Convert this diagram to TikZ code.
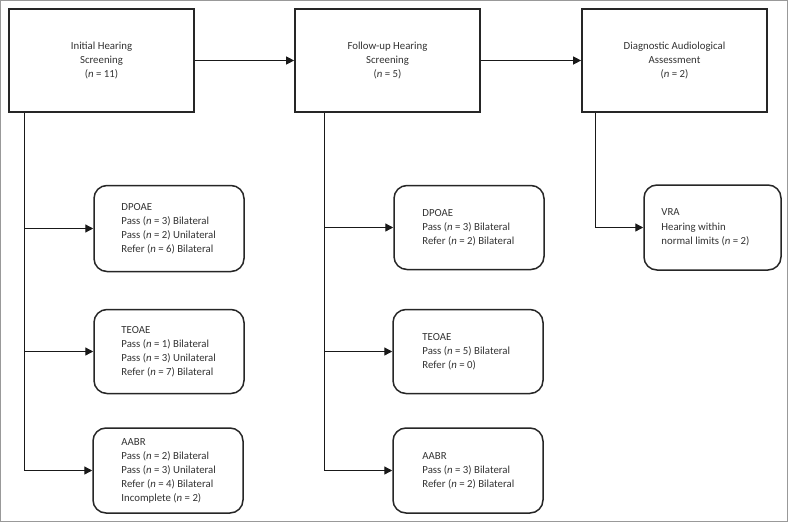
\documentclass[tikz,border=0pt]{standalone}
\usepackage{fontspec}
\setmainfont{Carlito}
\usetikzlibrary{arrows.meta}
\newcommand{\nn}{\textit{n}}
\begin{document}
\begin{tikzpicture}[x=1pt,y=-1pt,
  every node/.style={font=\fontsize{10.8}{14}\selectfont, text=black!80},
  head/.style={draw=black!85, line width=1.7pt, minimum width=185pt, minimum height=103pt, align=center, inner sep=0pt},
  res/.style={draw=black!85, line width=1.5pt, rounded corners=13pt, inner sep=0pt},
  txt/.style={align=left, inner sep=0pt, anchor=west},
  conn/.style={draw=black!90, line width=1.3pt, -{Triangle[length=8pt,width=8pt]}},
  trunk/.style={draw=black!90, line width=1.3pt},
]
\fill[white] (0,0) rectangle (788,522);
\draw[black!40, line width=1pt] (0.5,0.5) rectangle (787.5,521.5);
\useasboundingbox (0,0) rectangle (788,522);

% header boxes
\node[head] (h1) at (101.5,60.5) {Initial Hearing\\Screening\\(\nn{} = 11)};
\node[head] (h2) at (387.5,60.5) {Follow-up Hearing\\Screening\\(\nn{} = 5)};
\node[head] (h3) at (674.5,60.5) {Diagnostic Audiological\\Assessment\\(\nn{} = 2)};

% left column
\node[res, minimum width=150pt, minimum height=86pt] (a1) at (169,228.5) {};
\node[txt] (a1t) at ([xshift=28pt]a1.west) {DPOAE\\Pass (\nn{} = 3) Bilateral\\Pass (\nn{} = 2) Unilateral\\Refer (\nn{} = 6) Bilateral};
\node[res, minimum width=150pt, minimum height=84pt] (a2) at (169,351.5) {};
\node[txt] (a2t) at ([xshift=28pt]a2.west) {TEOAE\\Pass (\nn{} = 1) Bilateral\\Pass (\nn{} = 3) Unilateral\\Refer (\nn{} = 7) Bilateral};
\node[res, minimum width=150pt, minimum height=85pt] (a3) at (168,470.5) {};
\node[txt] (a3t) at ([xshift=29pt]a3.west) {AABR\\Pass (\nn{} = 2) Bilateral\\Pass (\nn{} = 3) Unilateral\\Refer (\nn{} = 4) Bilateral\\Incomplete (\nn{} = 2)};

% middle column
\node[res, minimum width=150pt, minimum height=84pt] (b1) at (469,227.5) {};
\node[txt] (b1t) at ([xshift=29pt]b1.west) {DPOAE\\Pass (\nn{} = 3) Bilateral\\Refer (\nn{} = 2) Bilateral};
\node[res, minimum width=150pt, minimum height=84pt] (b2) at (468,351.5) {};
\node[txt] (b2t) at ([xshift=30pt]b2.west) {TEOAE\\Pass (\nn{} = 5) Bilateral\\Refer (\nn{} = 0)};
\node[res, minimum width=150pt, minimum height=85pt] (b3) at (468,470.5) {};
\node[txt] (b3t) at ([xshift=30pt]b3.west) {AABR\\Pass (\nn{} = 3) Bilateral\\Refer (\nn{} = 2) Bilateral};

% right column
\node[res, minimum width=137pt, minimum height=85pt] (c1) at (712.5,227.5) {};
\node[txt] (c1t) at ([xshift=18pt]c1.west) {VRA\\[1pt]Hearing within\\normal limits (\nn{} = 2)};

% connectors
\draw[conn] (h1.east) -- (h2.west);
\draw[conn] (h2.east) -- (h3.west);

\coordinate (v1) at ([xshift=16.5pt]h1.south west);
\coordinate (v2) at ([xshift=30.5pt]h2.south west);
\coordinate (v3) at ([xshift=14.5pt]h3.south west);
\coordinate (e1) at (v1 |- a3.west);
\coordinate (e2) at (v2 |- b3.west);

\draw[trunk] (v1) -- (e1);
\draw[trunk] (v2) -- (e2);
\draw[conn] (v1 |- a1.west) -- (a1.west);
\draw[conn] (v1 |- a2.west) -- (a2.west);
\draw[conn] (e1) -- (a3.west);
\draw[conn] (v2 |- b1.west) -- (b1.west);
\draw[conn] (v2 |- b2.west) -- (b2.west);
\draw[conn] (e2) -- (b3.west);
\draw[conn] (v3) |- (c1.west);
\end{tikzpicture}
\end{document}
